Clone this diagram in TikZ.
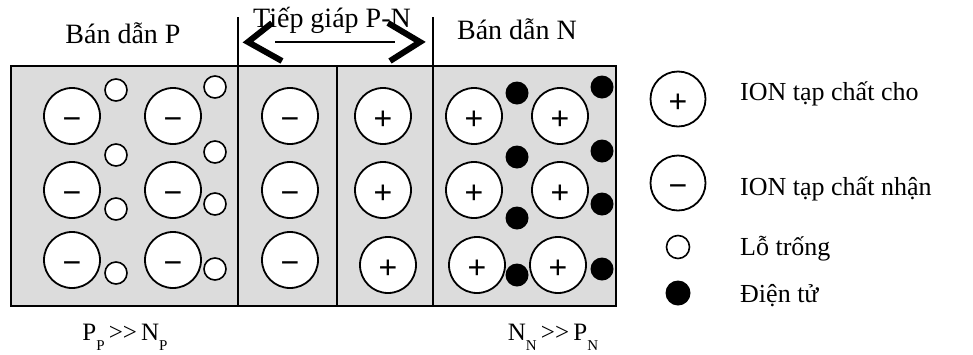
\documentclass[tikz,border=0pt]{standalone}
\usepackage{fontspec}
\setmainfont{Liberation Serif}
\newfontfamily\signfont{Liberation Sans}
\usetikzlibrary{positioning}
\definecolor{ink} {HTML}{000000}
\definecolor{bulk}{HTML}{DCDCDC}
\newcommand{\lowsub}[1]{\raisebox{-10pt}{\fontsize{15}{15}\selectfont #1}}

\begin{document}
\begin{tikzpicture}[x=1pt,y=-1pt,
  ion/.style={circle,draw=ink,fill=white,line width=1.8pt,minimum size=56pt,
              inner sep=0pt,text height=26.8pt,text depth=0pt,
              font=\signfont\fontsize{32}{32}\selectfont},
  hole/.style={circle,draw=ink,fill=white,line width=1.6pt,minimum size=22pt,inner sep=0pt},
  elec/.style={circle,fill=ink,minimum size=23pt,inner sep=0pt},
  title/.style={font=\fontsize{28}{30}\selectfont,inner sep=0pt,anchor=base},
  legend/.style={font=\fontsize{26}{30}\selectfont,inner sep=0pt,anchor=base west},
  wall/.style={draw=ink,line width=1.6pt}]
 \useasboundingbox (0,0) rectangle (973,354);

 % crystal block
 \fill[bulk] (11,66) rectangle (616,306);
 \draw[wall] (11,66) rectangle (616,306);
 \draw[wall] (238,17) -- (238,306);
 \draw[wall] (433,17) -- (433,306);
 \draw[wall] (337,66) -- (337,306);

 % junction width
 \coordinate (jl) at (275,42);
 \coordinate (jr) at (395,42);
 \draw[ink, line width=1.4pt] (jl) -- (jr);
 \draw[ink, line width=6pt] (272,23) -- (248,42) -- (282,61);
 \draw[ink, line width=6pt] (388,23) -- (420,42) -- (390,61);

 % P side: acceptor ions and holes
 \foreach \y [count=\r] in {116,190,260} {
   \node[ion] (pa\r) at (72,\y)  {−};
   \node[ion] (pb\r) at (173,\y) {−};
 }
 \foreach \x/\y [count=\k] in {116/90,215/87,116/155,215/152,116/209,215/204,116/273,215/269}
   \node[hole] (h\k) at (\x,\y) {};

 % depletion layer
 \node[ion] (da1) at (290,116) {−};
 \node[ion] (da2) at (290,190) {−};
 \node[ion] (da3) at (290,260) {−};
 \node[ion] (db1) at (383,116) {+};
 \node[ion] (db2) at (383,190) {+};
 \node[ion] (db3) at (388,265) {+};

 % N side: donor ions and electrons
 \foreach \xa/\xb/\y [count=\r] in {474/560/116,474/560/190,477/558/265} {
   \node[ion] (na\r) at (\xa,\y) {+};
   \node[ion] (nb\r) at (\xb,\y) {+};
 }
 \foreach \x/\y [count=\k] in {517/93,602/87,517/157,602/151,517/218,602/204,517/275,602/269}
   \node[elec] (e\k) at (\x,\y) {};

 % headings
 \node[title] (tp) at (123,43) {Bán dẫn P};
 \node[title] (tj) at (332,27) {Tiếp giáp P-N};
 \node[title] (tn) at (517,39) {Bán dẫn N};
 \node[title, font=\fontsize{25}{26}\selectfont] (cp) at (125,340)
   {P\lowsub{P}\,{>}{>}\,N\lowsub{P}};
 \node[title, font=\fontsize{25}{26}\selectfont] (cn) at (553,340)
   {N\lowsub{N}\,{>}{>}\,P\lowsub{N}};

 % legend
 \node[ion, minimum size=55pt] (ld) at (678,99)  {+};
 \node[ion, minimum size=55pt] (la) at (678,183) {−};
 \node[hole, minimum size=23pt] (lh) at (678,247) {};
 \node[elec, minimum size=25pt] (le) at (678,293) {};
 \node[legend] at (740,100) {ION tạp chất cho};
 \node[legend] at (740,195) {ION tạp chất nhận};
 \node[legend] at (740,255) {Lỗ trống};
 \node[legend] at (740,302) {Điện tử};
\end{tikzpicture}
\end{document}
